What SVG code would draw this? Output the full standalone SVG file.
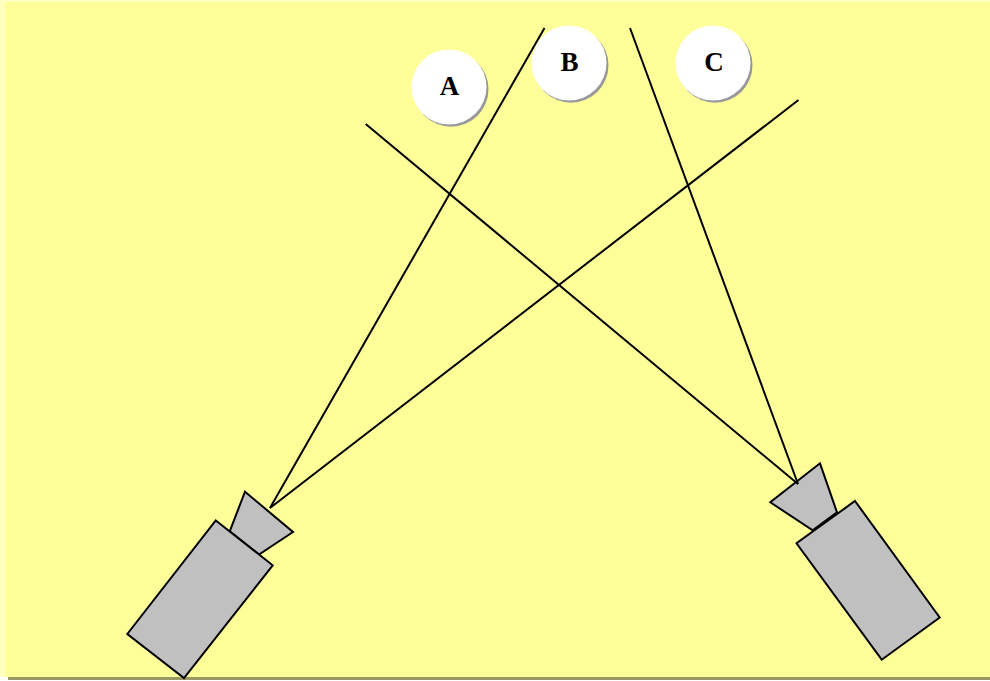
<svg xmlns="http://www.w3.org/2000/svg" width="990" height="681" viewBox="0 0 990 681">
<style>
.part{fill:#c0c0c0;stroke:#000;stroke-width:2;stroke-linejoin:miter}
.ray{stroke:#000;stroke-width:2;fill:none}
.disc{fill:#fff}
.shade{fill:#999}
.lbl{font-family:"Liberation Serif","Times New Roman",serif;font-weight:bold;font-size:27px;text-anchor:middle;fill:#000}
</style>
<rect x="0" y="0" width="990" height="681" fill="#fff"/>
<rect x="0" y="0" width="990" height="677" fill="#ffffc0"/>
<rect x="5" y="2" width="985" height="675" fill="#ffff99"/>
<rect x="8" y="677" width="982" height="3" fill="#999966"/>
<g id="camera-left">
<polygon class="part" points="245,491.700 293,532 259,554.500 229.700,531.400"/>
<polygon class="part" points="215.800,520.500 272.700,565.300 184,678 127.300,634"/>
</g>
<g id="camera-right">
<polygon class="part" points="820,463.300 837,512.300 812.700,530.300 770.300,502.300"/>
<polygon class="part" points="855,501 939.700,617.500 881.700,659.700 796.500,543.300"/>
</g>
<g id="connectors">
<line class="ray" x1="544.500" y1="28" x2="270" y2="508"/>
<line class="ray" x1="798.500" y1="100" x2="270" y2="508"/>
<line class="ray" x1="365.700" y1="124" x2="798" y2="484"/>
<line class="ray" x1="630" y1="28" x2="798" y2="484"/>
</g>
<g id="node-a">
<circle class="shade" cx="451" cy="89.200" r="37.500"/>
<circle class="disc" cx="449" cy="87" r="37.500"/>
<text class="lbl" x="449.500" y="95">A</text>
</g>
<g id="node-b">
<circle class="shade" cx="571" cy="65.200" r="37.500"/>
<circle class="disc" cx="569" cy="63" r="37.500"/>
<text class="lbl" x="569.500" y="71">B</text>
</g>
<g id="node-c">
<circle class="shade" cx="715" cy="65.200" r="37.500"/>
<circle class="disc" cx="713" cy="63" r="37.500"/>
<text class="lbl" x="714" y="71">C</text>
</g>
</svg>
